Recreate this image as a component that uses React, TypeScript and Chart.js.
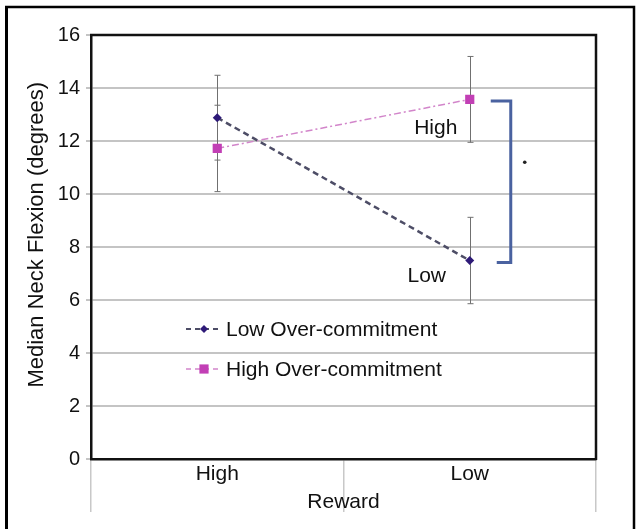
import React, { useEffect, useRef } from 'react';
import { Chart, registerables } from 'chart.js';

Chart.register(...registerables);

// ---- data ----
const categories = ['High', 'Low'];
const seriesNames = ['Low Over-commitment', 'High Over-commitment'];
const lowOC = [12.88, 7.49];
const lowOCErr = [1.6, 1.63];
const highOC = [11.72, 13.57];
const highOCErr = [1.63, 1.62];
const yMin = 0;
const yMax = 16;
const yStep = 2;
const xTitle = 'Reward';
const yTitle = 'Median Neck Flexion (degrees)';
const annotationLabels = ['High', 'Low'];
const significanceValue = 11.2;

const FONT = '"Liberation Sans", Arial, Helvetica, sans-serif';
const TEXT = '#111111';
const LOW_LINE = '#4d4d66';
const LOW_MARK = '#2e1a78';
const HIGH_LINE = '#d285ca';
const HIGH_MARK = '#c23fb5';
const BRACKET = '#4a62a0';

function drawMarker(ctx: CanvasRenderingContext2D, style: string, x: number, y: number, r: number, color: string) {
  ctx.save();
  ctx.fillStyle = color;
  ctx.beginPath();
  if (style === 'rect') {
    const s = r * Math.SQRT1_2;
    ctx.rect(x - s, y - s, 2 * s, 2 * s);
  } else {
    ctx.moveTo(x - r, y);
    ctx.lineTo(x, y - r);
    ctx.lineTo(x + r, y);
    ctx.lineTo(x, y + r);
    ctx.closePath();
  }
  ctx.fill();
  ctx.restore();
}

export default function App() {
  const ref = useRef<HTMLCanvasElement>(null);

  useEffect(() => {
    const canvas = ref.current;
    if (!canvas) return;
    const errors = [lowOCErr, highOCErr];

    const extras = {
      id: 'extras',
      beforeDatasetsDraw(chart: any) {
        const { ctx } = chart;
        const ys = chart.scales.y;
        ctx.save();
        ctx.strokeStyle = '#707070';
        ctx.lineWidth = 1;
        chart.data.datasets.forEach((ds: any, i: number) => {
          const meta = chart.getDatasetMeta(i);
          meta.data.forEach((pt: any, j: number) => {
            const v = ds.data[j];
            const e = errors[i][j];
            const x = Math.round(pt.x) + 0.5;
            const y1 = ys.getPixelForValue(v + e);
            const y2 = ys.getPixelForValue(v - e);
            ctx.beginPath();
            ctx.moveTo(x, y1);
            ctx.lineTo(x, y2);
            ctx.moveTo(x - 3, y1);
            ctx.lineTo(x + 3, y1);
            ctx.moveTo(x - 3, y2);
            ctx.lineTo(x + 3, y2);
            ctx.stroke();
          });
        });
        ctx.restore();
      },
      afterDraw(chart: any) {
        const { ctx, chartArea } = chart;
        const ys = chart.scales.y;
        const xs = chart.scales.x;
        ctx.save();
        // plot border (top/right)
        ctx.strokeStyle = '#111';
        ctx.lineWidth = 2.5;
        ctx.beginPath();
        ctx.moveTo(chartArea.left - 1, chartArea.top);
        ctx.lineTo(chartArea.right, chartArea.top);
        ctx.lineTo(chartArea.right, chartArea.bottom + 1);
        ctx.stroke();

        // legend inside plot
        const lx = chartArea.left + 95;
        const rows = [chartArea.top + 294, chartArea.top + 334];
        const styles = [
          { dash: [5, 4], color: LOW_LINE, w: 2, mark: 'rectRot', mc: LOW_MARK, r: 4 },
          { dash: [5, 4], color: HIGH_LINE, w: 1.5, mark: 'rect', mc: HIGH_MARK, r: 6.5 },
        ];
        seriesNames.forEach((name, i) => {
          const st = styles[i];
          const y = rows[i];
          ctx.save();
          ctx.strokeStyle = st.color;
          ctx.lineWidth = st.w;
          ctx.setLineDash(st.dash);
          ctx.beginPath();
          ctx.moveTo(lx, y);
          ctx.lineTo(lx + 35, y);
          ctx.stroke();
          ctx.restore();
          drawMarker(ctx, st.mark, lx + 18, y, st.r, st.mc);
          ctx.fillStyle = TEXT;
          ctx.font = `21px ${FONT}`;
          ctx.textAlign = 'left';
          ctx.textBaseline = 'middle';
          ctx.fillText(name, lx + 40, y + 1);
        });

        // annotations
        const xLow = xs.getPixelForValue(1);
        const yHighOC = ys.getPixelForValue(highOC[1]);
        const yLowOC = ys.getPixelForValue(lowOC[1]);
        ctx.fillStyle = TEXT;
        ctx.font = `21px ${FONT}`;
        ctx.textAlign = 'center';
        ctx.textBaseline = 'alphabetic';
        ctx.fillText(annotationLabels[0], xLow - 34, yHighOC + 35);
        ctx.fillText(annotationLabels[1], xLow - 43, yLowOC + 21);

        // bracket
        ctx.strokeStyle = BRACKET;
        ctx.lineWidth = 3;
        ctx.beginPath();
        ctx.moveTo(xLow + 21, yHighOC + 1.5);
        ctx.lineTo(xLow + 41, yHighOC + 1.5);
        ctx.lineTo(xLow + 41, yLowOC + 2);
        ctx.lineTo(xLow + 27, yLowOC + 2);
        ctx.stroke();

        // significance dot
        ctx.fillStyle = '#222';
        ctx.beginPath();
        ctx.arc(xLow + 55, ys.getPixelForValue(significanceValue), 1.8, 0, Math.PI * 2);
        ctx.fill();

        // outer frame
        ctx.strokeStyle = '#000';
        ctx.lineWidth = 3;
        ctx.beginPath();
        ctx.moveTo(6.5, 540);
        ctx.lineTo(6.5, 7);
        ctx.stroke();
        ctx.lineWidth = 2.5;
        ctx.beginPath();
        ctx.moveTo(5, 7);
        ctx.lineTo(634, 7);
        ctx.lineTo(634, 540);
        ctx.stroke();
        ctx.restore();
      },
    };

    const chart = new Chart(canvas, {
      type: 'line',
      data: {
        labels: categories,
        datasets: [
          {
            label: seriesNames[0],
            data: lowOC,
            borderColor: LOW_LINE,
            borderWidth: 2.5,
            borderDash: [6, 4],
            pointStyle: 'rectRot',
            pointRadius: 4.5,
            pointBackgroundColor: LOW_MARK,
            pointBorderColor: LOW_MARK,
            pointBorderWidth: 0,
            fill: false,
            tension: 0,
          },
          {
            label: seriesNames[1],
            data: highOC,
            borderColor: HIGH_LINE,
            borderWidth: 1.5,
            borderDash: [7, 3, 2, 3],
            pointStyle: 'rect',
            pointRadius: 6.5,
            pointBackgroundColor: HIGH_MARK,
            pointBorderColor: HIGH_MARK,
            pointBorderWidth: 0,
            fill: false,
            tension: 0,
          },
        ],
      },
      options: {
        responsive: false,
        animation: false,
        layout: { padding: { left: 20, top: 35, right: 40, bottom: 10 } },
        plugins: { legend: { display: false }, tooltip: { enabled: false } },
        scales: {
          x: {
            type: 'category',
            offset: true,
            grid: { offset: true, drawOnChartArea: false, drawTicks: true, tickLength: 53, color: '#c8c8c8', lineWidth: 1.5 },
            border: { display: true, color: '#111', width: 2.5 },
            ticks: { padding: -50, color: TEXT, font: { family: FONT, size: 21 } },
            title: { display: true, text: xTitle, color: TEXT, font: { family: FONT, size: 21 }, padding: { top: 0, bottom: 4 } },
            afterFit: (s: any) => { s.height = 60; },
          },
          y: {
            min: yMin,
            max: yMax,
            ticks: { stepSize: yStep, padding: 6, color: TEXT, font: { family: FONT, size: 20 } },
            grid: { color: '#c4c4c4', lineWidth: 2, tickLength: 5, drawTicks: true },
            border: { display: true, color: '#111', width: 2.5 },
            title: { display: true, text: '    ' + yTitle, color: TEXT, font: { family: FONT, size: 22 }, padding: { top: 4, bottom: 4 } },
            afterFit: (s: any) => { s.width = 71; },
          },
        },
      } as any,
      plugins: [extras],
    });
    return () => chart.destroy();
  }, []);

  return (
    <canvas
      ref={ref}
      width={636}
      height={529}
      style={{ position: 'absolute', left: 0, top: 0, display: 'block' }}
    />
  );
}
